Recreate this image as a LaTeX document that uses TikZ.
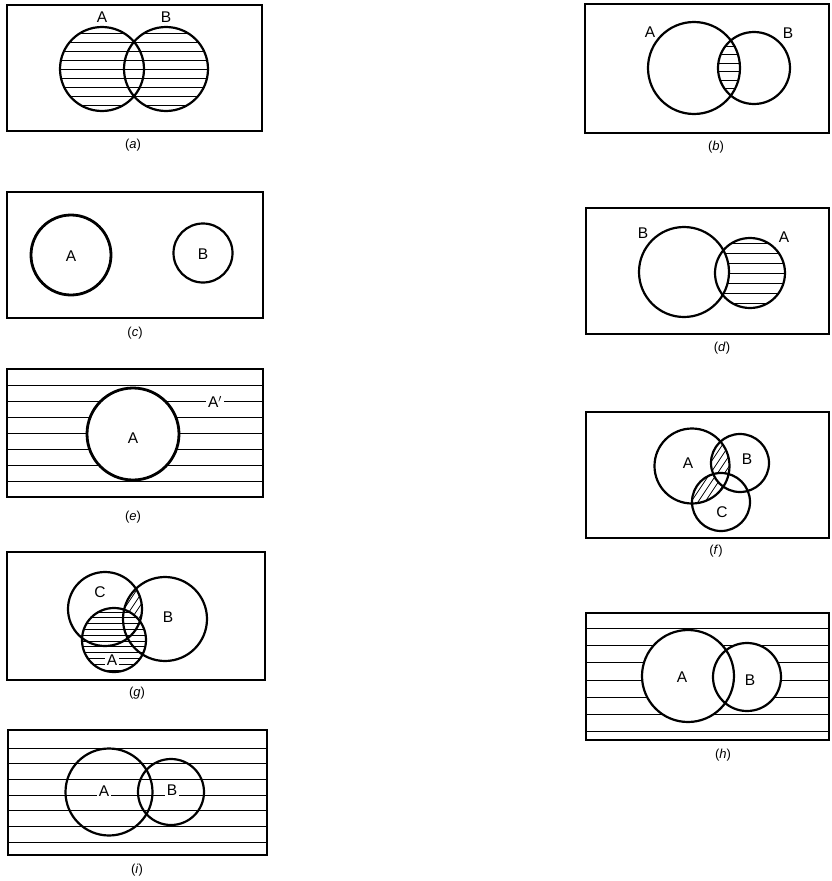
\documentclass[tikz,border=0pt]{standalone}
\usepackage{fontspec}
\setmainfont{Liberation Sans}
\tikzset{
  frame/.style={line width=1.6pt},
  circ/.style={line width=2.2pt},
  thickcirc/.style={line width=2.8pt},
  hatch/.style={line width=0.75pt},
  lab/.style={font=\fontsize{15.5}{18}\selectfont, inner sep=1pt},
  wlab/.style={lab, fill=white, inner sep=2pt},
  captxt/.style={font=\fontsize{13}{15}\selectfont, inner sep=1pt},
}
\newcommand\hlns[3]{\foreach \yy in {#3} \draw[hatch] (#1,\yy) -- (#2,\yy);}
\begin{document}
\begin{tikzpicture}[x=1pt,y=-1pt]
\useasboundingbox (0,0) rectangle (831,881);

% ---------- (a)
\draw[frame] (7,5) rectangle (262,131);
\begin{scope}\clip (102,69) circle (42); \hlns{50}{220}{33,42,...,110}\end{scope}
\begin{scope}\clip (166,69) circle (42); \hlns{50}{220}{33,42,...,110}\end{scope}
\draw[circ] (102,69) circle (42);
\draw[circ] (166,69) circle (42);
\node[lab] (aA) at (102,17) {A};
\node[lab] (aB) at (166,17) {B};
\node[captxt] (capa) at (133,145) {(\textit{a})};

% ---------- (b)
\draw[frame] (585,4) rectangle (829,133);
\begin{scope}\clip (694,68) circle (46); \clip (754,68) circle (36);
  \hlns{700}{760}{46,54.5,...,95}\end{scope}
\draw[circ] (694,68) circle (46);
\draw[circ] (754,68) circle (36);
\node[lab] (bA) at (650,32) {A};
\node[lab] (bB) at (788,33) {B};
\node[captxt] (capb) at (716,147) {(\textit{b})};

% ---------- (c)
\draw[frame] (7,192) rectangle (263,318);
\draw[thickcirc] (71,255) circle (40);
\draw[circ] (203,253) circle (29.5);
\node[lab] (cA) at (71,256) {A};
\node[lab] (cB) at (203,254) {B};
\node[captxt] (capc) at (135,333) {(\textit{c})};

% ---------- (d)
\draw[frame] (586,208) rectangle (829,334);
\begin{scope}\clip (750,273) circle (35);
  \hlns{700}{800}{243,253,...,306}
  \fill[white] (684,272) circle (45);
\end{scope}
\draw[circ] (684,272) circle (45);
\draw[circ] (750,273) circle (35);
\node[lab] (dB) at (643,233) {B};
\node[lab] (dA) at (784,237) {A};
\node[captxt] (capd) at (722,348) {(\textit{d})};

% ---------- (e)
\hlns{7}{263}{385,401,...,482}
\fill[white] (133,434) circle (46);
\draw[frame] (7,369) rectangle (263,497);
\draw[thickcirc] (133,434) circle (46);
\node[wlab] (eAp) at (215,402) {A$'$};
\node[lab] (eA) at (133,438) {A};
\node[captxt] (cape) at (133,517) {(\textit{e})};

% ---------- (f)
\draw[frame] (586,412) rectangle (829,538);
\begin{scope}\clip (692,466) circle (37.5);
  \begin{scope}\clip (740,463) circle (29);
    \foreach \k in {-70,-63,...,70} \draw[hatch] ({716+\k-30},{465+45}) -- ({716+\k+30},{465-45});
  \end{scope}
  \begin{scope}\clip (721,502) circle (29);
    \foreach \k in {-70,-63,...,70} \draw[hatch] ({706+\k-30},{490+45}) -- ({706+\k+30},{490-45});
  \end{scope}
  \begin{scope}\clip (740,463) circle (29); \fill[white] (721,502) circle (29);\end{scope}
\end{scope}
\draw[circ] (692,466) circle (37.5);
\draw[circ] (740,463) circle (29);
\draw[circ] (721,502) circle (29);
\node[lab] (fA) at (688,463) {A};
\node[lab] (fB) at (747,459) {B};
\node[lab] (fC) at (722,512) {C};
\node[captxt] (capf) at (716,551) {(\textit{f})};

% ---------- (g)
\draw[frame] (7,552) rectangle (265,680);
\begin{scope}\clip (165,619) circle (42); \clip (105,609) circle (37);
  \foreach \k in {-70,-63,...,70} \draw[hatch] ({130+\k-30},{600+45}) -- ({130+\k+30},{600-45});
\end{scope}
\begin{scope}\clip (114,640) circle (32);
  \fill[white] (114,640) circle (32);
  \hlns{70}{160}{612,617.8,...,672}
\end{scope}
\draw[circ] (105,609) circle (37);
\draw[circ] (165,619) circle (42);
\draw[circ] (114,640) circle (32);
\node[lab] (gC) at (100,592) {C};
\node[lab] (gB) at (168,617) {B};
\node[wlab] (gA) at (112,660) {A};
\node[captxt] (capg) at (137,693) {(\textit{g})};

% ---------- (h)
\hlns{586}{829}{628,645.3,...,735}
\fill[white] (688,676) circle (46);
\fill[white] (747,677) circle (34);
\draw[frame] (586,613) rectangle (829,740);
\draw[circ] (688,676) circle (46);
\draw[circ] (747,677) circle (34);
\node[lab] (hA) at (682,677) {A};
\node[lab] (hB) at (750,680) {B};
\node[captxt] (caph) at (723,755) {(\textit{h})};

% ---------- (i)
\hlns{8}{267}{748,763.7,...,845}
\draw[frame] (8,730) rectangle (267,855);
\draw[circ] (109,792) circle (43.5);
\draw[circ] (171,792) circle (33);
\node[wlab] (iA) at (104,791) {A};
\node[wlab] (iB) at (172,790) {B};
\node[captxt] (capi) at (137,870) {(\textit{i})};
\end{tikzpicture}
\end{document}
